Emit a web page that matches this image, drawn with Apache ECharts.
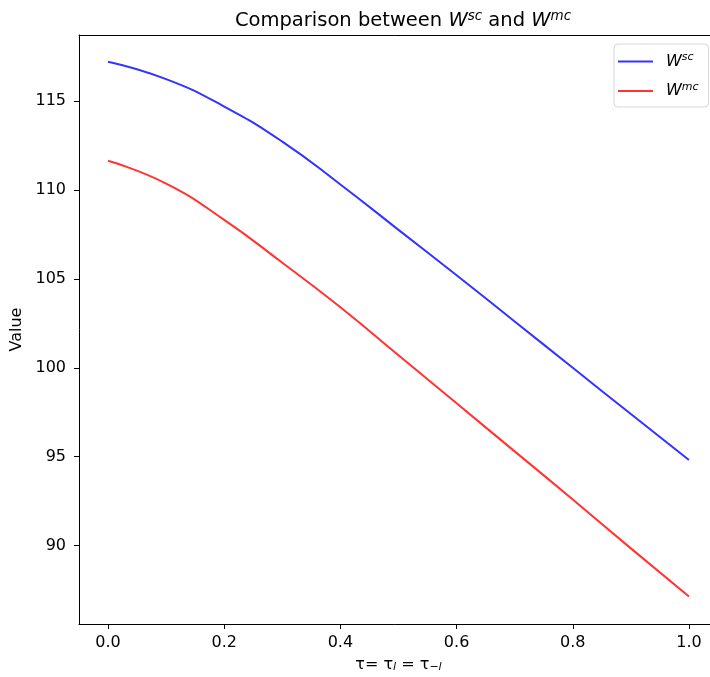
<!DOCTYPE html>
<html>
<head>
<meta charset="utf-8">
<script src="https://cdn.jsdelivr.net/npm/echarts@6/dist/echarts.min.js"></script>
<style>
  html, body { margin: 0; padding: 0; background: #fff; }
  #chart { width: 710px; height: 677px; }
</style>
</head>
<body>
<div id="chart"></div>
<script>
// tau values (x axis)
const tau = [0.0, 0.1, 0.2, 0.3, 0.4, 0.5, 0.6, 0.7, 0.8, 0.9, 1.0]
// W^sc and W^mc
const wSc = [117.2, 116.22, 114.68, 112.71, 110.3, 107.75, 105.2, 102.6, 100.0, 97.4, 94.82]
const wMc = [111.63, 110.35, 108.31, 105.9, 103.4, 100.7, 98.0, 95.3, 92.6, 89.85, 87.14]
// tick labels
const xTicks = [0.0, 0.2, 0.4, 0.6, 0.8, 1.0]
const yTicks = [90, 95, 100, 105, 110, 115]

const font = 'DejaVu Sans'

const supRich = {
  w: { fontFamily: font, fontStyle: 'italic', fontSize: 16, color: '#000' },
  s: { fontFamily: font, fontStyle: 'italic', fontSize: 11, color: '#000', verticalAlign: 'top', padding: [0, 0, 8, 0] },
}

let myChart = echarts.init(document.getElementById('chart'))

const option = {
  backgroundColor: '#fff',
  animation: false,
  title: {
    text: '{t|Comparison between }{w|W}{s|sc}{t| and }{w|W}{s|mc}',
    left: 398,
    textAlign: 'center',
    top: 4,
    textStyle: {
      fontWeight: 'normal',
      rich: {
        t: { fontFamily: font, fontWeight: 'normal', fontSize: 19.5, color: '#000' },
        w: { fontFamily: font, fontWeight: 'normal', fontStyle: 'italic', fontSize: 19.5, color: '#000' },
        s: { fontFamily: font, fontWeight: 'normal', fontStyle: 'italic', fontSize: 13.5, color: '#000', verticalAlign: 'top', padding: [0, 0, 10, 0] },
      }
    }
  },
  legend: {
    orient: 'vertical',
    left: 614,
    top: 44,
    padding: [8, 10, 8, 4],
    itemGap: 12,
    itemWidth: 35,
    itemHeight: 2,
    icon: 'rect',
    borderColor: '#d6d6d6',
    borderWidth: 1,
    borderRadius: 4,
    backgroundColor: 'rgba(255,255,255,0.8)',
    data: ['Wsc', 'Wmc'],
    formatter: name => '{w|W}{s|' + name.slice(1) + '}',
    textStyle: { rich: supRich, padding: [0, 0, 0, 8] },
  },
  grid: {
    left: 79,
    top: 35,
    width: 639,
    bottom: 53,
    outerBoundsMode: 'none',
    containLabel: false,
  },
  xAxis: [{
    type: 'value',
    min: -0.05,
    max: 1.05,
    name: '{t|τ= τ}{sub|l}{t| = τ}{sub|−l}',
    nameLocation: 'middle',
    nameGap: 32,
    nameTextStyle: {
      rich: {
        t: { fontFamily: font, fontSize: 16, color: '#000' },
        sub: { fontFamily: font, fontStyle: 'italic', fontSize: 11, color: '#000', verticalAlign: 'bottom', padding: [6, 0, 0, 0] },
      }
    },
    splitLine: { show: false },
    axisLine: { show: true, onZero: false, lineStyle: { color: '#000', width: 1 } },
    axisTick: { show: true, length: 5, customValues: xTicks, lineStyle: { color: '#000' } },
    axisLabel: {
      customValues: xTicks,
      formatter: v => v.toFixed(1),
      fontFamily: font,
      fontSize: 16,
      color: '#000',
      margin: 11,
    },
  }, {
    // top spine only
    type: 'value',
    position: 'top',
    min: -0.05,
    max: 1.05,
    splitLine: { show: false },
    axisLine: { show: true, onZero: false, lineStyle: { color: '#000', width: 1 } },
    axisTick: { show: false },
    axisLabel: { show: false },
  }],
  yAxis: {
    type: 'value',
    min: 85.6,
    max: 118.7,
    name: 'Value',
    nameLocation: 'middle',
    nameGap: 51,
    nameTextStyle: { fontFamily: font, fontSize: 16, color: '#000' },
    splitLine: { show: false },
    axisLine: { show: true, onZero: false, lineStyle: { color: '#000', width: 1 } },
    axisTick: { show: true, length: 5, customValues: yTicks, lineStyle: { color: '#000' } },
    axisLabel: {
      customValues: yTicks,
      fontFamily: font,
      fontSize: 16,
      color: '#000',
      margin: 13,
    },
  },
  series: [{
    name: 'Wsc',
    type: 'line',
    data: tau.map((t, i) => [t, wSc[i]]),
    smooth: true,
    showSymbol: false,
    color: 'rgba(0,0,255,0.8)',
    lineStyle: { width: 2, color: 'rgba(0,0,255,0.8)' },
  }, {
    name: 'Wmc',
    type: 'line',
    data: tau.map((t, i) => [t, wMc[i]]),
    smooth: true,
    showSymbol: false,
    color: 'rgba(255,0,0,0.8)',
    lineStyle: { width: 2, color: 'rgba(255,0,0,0.8)' },
  }]
}

myChart.setOption(option)
</script>
</body>
</html>
